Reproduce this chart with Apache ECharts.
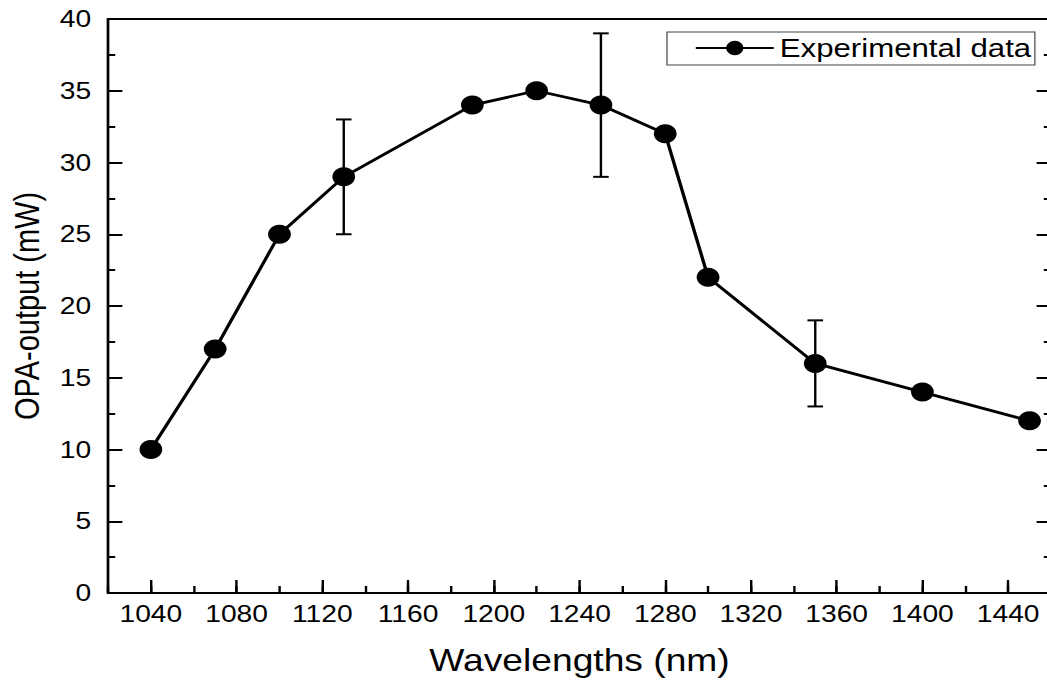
<!DOCTYPE html>
<html>
<head>
<meta charset="utf-8">
<script src="https://cdn.jsdelivr.net/npm/echarts@6/dist/echarts.min.js"></script>
<style>
  html, body { margin: 0; padding: 0; background: #fff; overflow: hidden; }
  #chart { width: 880px; height: 681px; transform: scaleX(1.2); transform-origin: 0 0; }
</style>
</head>
<body>
<div id="chart"></div>
<script>
// OPA output power versus wavelength
const wavelengths = [1040, 1070, 1100, 1130, 1190, 1220, 1250, 1280, 1300, 1350, 1400, 1450];
const power = [10, 17, 25, 29, 34, 35, 34, 32, 22, 16, 14, 12];

// Error bars (lower / upper bound) at selected wavelengths
const errWavelengths = [1130, 1250, 1350];
const errLow = [25, 29, 13];
const errHigh = [33, 39, 19];

// Axis ticks
const xMajorTicks = [1040, 1080, 1120, 1160, 1200, 1240, 1280, 1320, 1360, 1400, 1440];
const xMin = 1020, xMax = 1460, xMinorStep = 20;
const yMin = 0, yMax = 40, yStep = 5;

const SX = 1.2;          // horizontal stretch applied to the container
const W0 = 880;          // unstretched container width
const FONT = '"Liberation Sans", Arial, Helvetica, sans-serif';

const chart = echarts.init(document.getElementById('chart'), null, { renderer: 'svg' });

const linePoints = wavelengths.map((w, i) => [w, power[i]]);
const errPoints = errWavelengths.map((w, i) => [w, errLow[i], errHigh[i]]);

const axisLine = { show: true, lineStyle: { color: '#000', width: 2 } };
const plain = v => String(v);

chart.setOption({
  animation: false,
  backgroundColor: '#fff',
  textStyle: { fontFamily: FONT, color: '#000' },
  grid: {
    left: 106.7 / SX,
    right: W0 - 1051 / SX,
    top: 19,
    bottom: 88,
    show: true,
    borderColor: '#000',
    borderWidth: 2,
    containLabel: false
  },
  legend: {
    data: ['Experimental data'],
    left: 667 / SX,
    top: 32,
    itemWidth: 65,
    itemHeight: 18,
    padding: [3, 3, 4, 23],
    borderColor: '#444',
    borderWidth: 1,
    backgroundColor: '#fff',
    textStyle: { fontFamily: FONT, fontSize: 26, color: '#000' }
  },
  xAxis: [
    {
      type: 'value',
      position: 'bottom',
      min: xMin,
      max: xMax,
      name: 'Wavelengths (nm)',
      nameLocation: 'middle',
      nameGap: 52,
      nameTextStyle: { fontFamily: FONT, fontSize: 31, color: '#000' },
      axisLine: axisLine,
      axisTick: { show: true, inside: true, length: 13, customValues: xMajorTicks, lineStyle: { color: '#000', width: 2 } },
      axisLabel: { show: true, customValues: xMajorTicks, formatter: plain, margin: 9, fontFamily: FONT, fontSize: 23.5, color: '#000' },
      splitLine: { show: false }
    },
    {
      type: 'value',
      position: 'bottom',
      min: xMin,
      max: xMax,
      interval: xMinorStep,
      axisLine: { show: false },
      axisTick: { show: true, inside: true, length: 7, lineStyle: { color: '#000', width: 2 } },
      axisLabel: { show: false },
      splitLine: { show: false }
    }
  ],
  yAxis: [
    {
      type: 'value',
      position: 'left',
      min: yMin,
      max: yMax,
      interval: yStep,
      name: 'OPA-output (mW)',
      nameLocation: 'middle',
      nameGap: 53,
      nameTextStyle: { fontFamily: FONT, fontSize: 29, color: '#000' },
      axisLine: axisLine,
      axisTick: { show: true, inside: true, length: 12, lineStyle: { color: '#000', width: 2 } },
      minorTick: { show: true, splitNumber: 2, length: 6, lineStyle: { color: '#000', width: 2 } },
      axisLabel: { show: true, formatter: plain, margin: 14, fontFamily: FONT, fontSize: 23.5, color: '#000' },
      splitLine: { show: false }
    },
    {
      type: 'value',
      position: 'right',
      min: yMin,
      max: yMax,
      interval: yStep,
      axisLine: axisLine,
      axisTick: { show: true, inside: true, length: 12, lineStyle: { color: '#000', width: 2 } },
      minorTick: { show: true, splitNumber: 2, length: 6, lineStyle: { color: '#000', width: 2 } },
      axisLabel: { show: false },
      splitLine: { show: false }
    }
  ],
  series: [
    {
      name: 'error',
      type: 'custom',
      xAxisIndex: 0,
      yAxisIndex: 0,
      data: errPoints,
      encode: { x: 0, y: [1, 2] },
      z: 2,
      renderItem: function (params, api) {
        const x = api.value(0);
        const lo = api.coord([x, api.value(1)]);
        const hi = api.coord([x, api.value(2)]);
        const hw = 6.5;
        const style = { stroke: '#000', lineWidth: 2 };
        return {
          type: 'group',
          children: [
            { type: 'line', shape: { x1: lo[0], y1: lo[1], x2: hi[0], y2: hi[1] }, style: style },
            { type: 'line', shape: { x1: lo[0] - hw, y1: lo[1], x2: lo[0] + hw, y2: lo[1] }, style: style },
            { type: 'line', shape: { x1: hi[0] - hw, y1: hi[1], x2: hi[0] + hw, y2: hi[1] }, style: style }
          ]
        };
      }
    },
    {
      name: 'Experimental data',
      type: 'line',
      xAxisIndex: 0,
      yAxisIndex: 0,
      data: linePoints,
      symbol: 'circle',
      symbolSize: 19,
      z: 3,
      lineStyle: { color: '#000', width: 2.8 },
      itemStyle: { color: '#000', borderWidth: 0 }
    }
  ]
});
</script>
</body>
</html>
